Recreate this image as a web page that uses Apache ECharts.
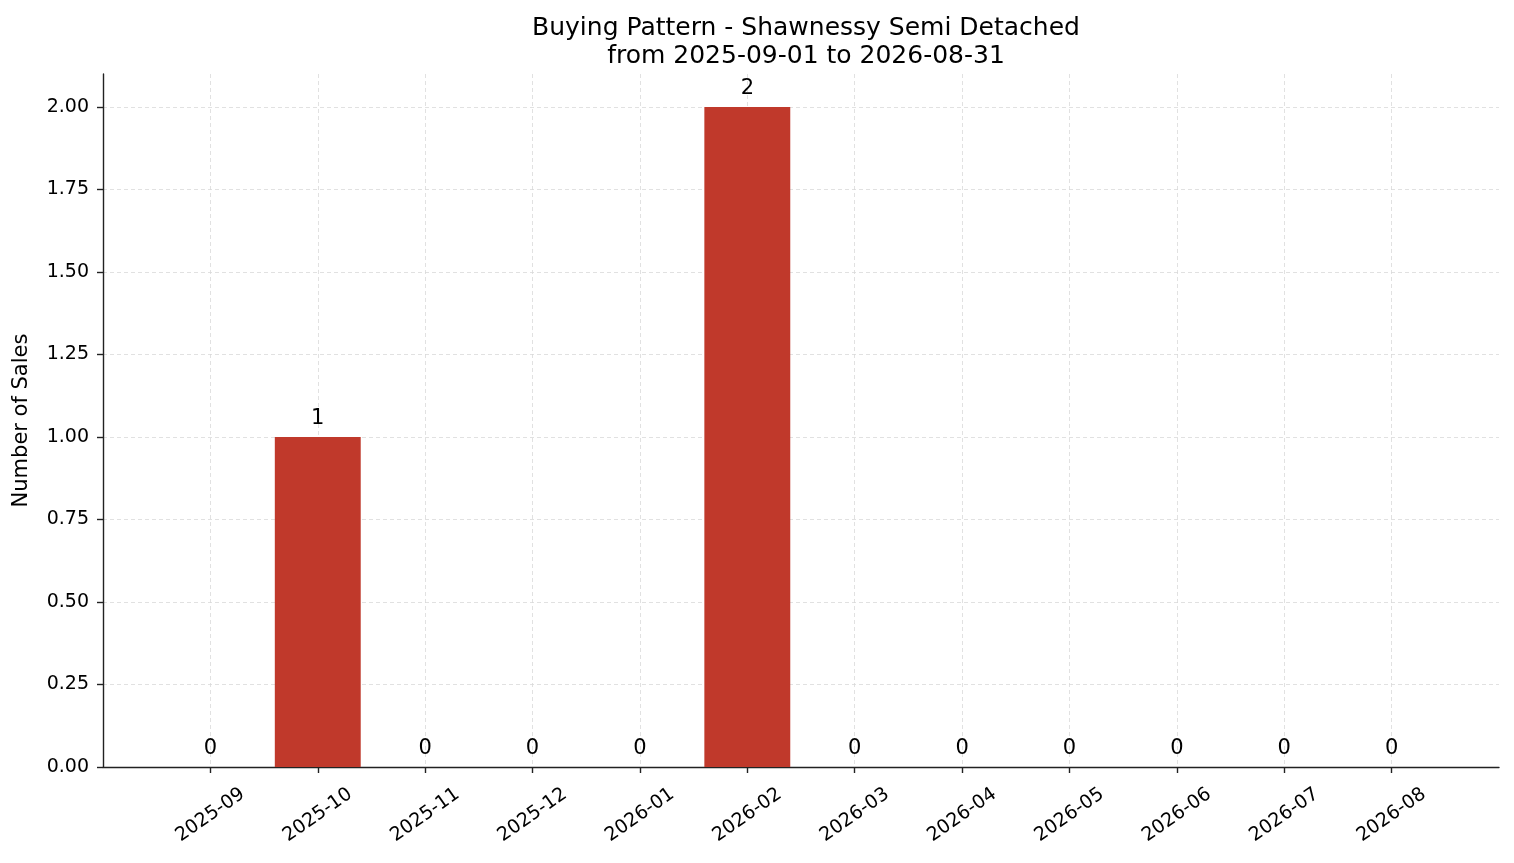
<!DOCTYPE html>
<html>
<head>
<meta charset="utf-8">
<script src="https://cdn.jsdelivr.net/npm/echarts@6/dist/echarts.min.js"></script>
<style>
html,body{margin:0;padding:0;background:#fff;}
#myCanvas{width:1514px;height:863px;}
</style>
</head>
<body>
<div id="myCanvas"></div>
<script>
// months shown on the x axis
var months = ['2025-09','2025-10','2025-11','2025-12','2026-01','2026-02','2026-03','2026-04','2026-05','2026-06','2026-07','2026-08'];
// number of sales per month
var sales = [0, 1, 0, 0, 0, 2, 0, 0, 0, 0, 0, 0];
var yTicks = [0, 0.25, 0.5, 0.75, 1, 1.25, 1.5, 1.75, 2];

// pad one empty slot each side so the axis runs from -1 to 12 like the original
var cats = [''].concat(months).concat(['']);
var barData = [null].concat(sales).concat([null]);

var myChart = echarts.init(document.getElementById('myCanvas'));
var font = 'DejaVu Sans';
var inner = function (i) { return i > 0 && i < cats.length - 1; };
var option = {
    animation: false,
    textStyle: {fontFamily: font},
    title: {
        text: 'Buying Pattern - Shawnessy Semi Detached\nfrom 2025-09-01 to 2026-08-31',
        left: 801,
        textAlign: 'center',
        top: 9,
        textStyle: {fontFamily: font, fontSize: 25, fontWeight: 'normal', color: '#000', lineHeight: 28}
    },
    grid: {left: 103, right: 15, top: 74, bottom: 96},
    xAxis: {
        type: 'category',
        data: cats,
        boundaryGap: false,
        axisLine: {lineStyle: {color: '#222', width: 1.4}},
        axisTick: {length: 6, lineStyle: {color: '#222', width: 1.4}, interval: inner},
        axisLabel: {
            rotate: 35,
            align: 'center',
            verticalAlign: 'middle',
            margin: 48,
            fontSize: 19,
            color: '#000',
            fontFamily: font,
            interval: 0
        },
        splitLine: {
            show: true,
            interval: inner,
            lineStyle: {color: '#d9d9d9', type: [4, 3], width: 0.8}
        }
    },
    yAxis: {
        type: 'value',
        min: 0,
        max: 2.1,
        interval: 0.25,
        name: 'Number of Sales',
        nameLocation: 'middle',
        nameGap: 71,
        nameTextStyle: {fontSize: 21, color: '#000', fontFamily: font},
        axisLine: {show: true, lineStyle: {color: '#222', width: 1.4}},
        axisTick: {show: true, length: 6, customValues: yTicks, lineStyle: {color: '#222', width: 1.4}},
        axisLabel: {
            fontSize: 19,
            color: '#000',
            fontFamily: font,
            margin: 14,
            customValues: yTicks,
            formatter: function (v) { return v.toFixed(2); }
        },
        splitLine: {lineStyle: {color: '#d9d9d9', type: [4, 3], width: 0.8}}
    },
    series: [
        {
            type: 'bar',
            data: barData,
            barWidth: '80%',
            z: 1,
            itemStyle: {color: '#c0392b'},
            label: {
                show: true,
                position: 'top',
                distance: 8,
                fontSize: 21,
                color: '#000',
                fontFamily: font
            }
        }
    ]
};

myChart.setOption(option);
</script>
</body>
</html>
